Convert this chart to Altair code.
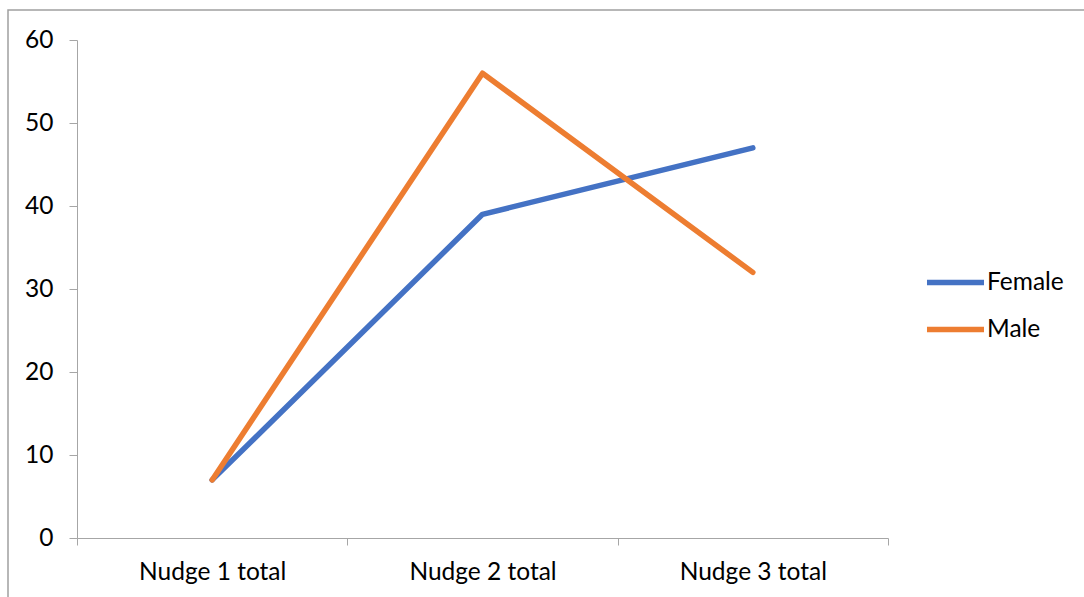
import altair as alt
import pandas as pd

# Totals per nudge, split by gender
categories = ["Nudge 1 total", "Nudge 2 total", "Nudge 3 total"]
female = [7, 39, 47]
male = [7, 56, 32]
series = ["Female", "Male"]
colors = ["#4472C4", "#ED7D31"]
y_ticks = [0, 10, 20, 30, 40, 50, 60]

rows = []
for name, vals in zip(series, [female, male]):
    for order, (cat, v) in enumerate(zip(categories, vals)):
        rows.append({"nudge": cat, "value": v, "gender": name, "order": order})
df = pd.DataFrame(rows)

FONT = "Lato"
FONT_SIZE = 24.5
AXIS_GREY = "#a6a6a6"

lines = alt.Chart(df).mark_line(
    strokeWidth=5.5, strokeCap="round", strokeJoin="round"
).encode(
    x=alt.X(
        "nudge:N",
        sort=categories,
        scale=alt.Scale(type="band", paddingInner=0, paddingOuter=0),
        bandPosition=0.5,
        axis=alt.Axis(
            title=None, labelAngle=0, tickBand="extent", domainColor=AXIS_GREY,
            tickColor=AXIS_GREY, tickSize=7, labelPadding=15, labelFont=FONT,
            labelFontSize=FONT_SIZE, labelColor="#000000", grid=False,
        ),
    ),
    y=alt.Y(
        "value:Q",
        scale=alt.Scale(domain=[0, 60], nice=False, zero=True),
        axis=alt.Axis(
            title=None, values=y_ticks, domainColor=AXIS_GREY, tickColor=AXIS_GREY,
            tickSize=8, labelPadding=16, labelFont=FONT, labelFontSize=FONT_SIZE,
            labelColor="#000000", grid=False,
        ),
    ),
    color=alt.Color(
        "gender:N",
        scale=alt.Scale(domain=series, range=colors),
        legend=alt.Legend(
            title=None, orient="none", legendX=847, legendY=211,
            symbolType="stroke", symbolSize=3250, symbolStrokeWidth=5.5,
            labelFont=FONT, labelFontSize=FONT_SIZE, labelColor="#000000",
            labelOffset=0, rowPadding=4,
        ),
    ),
    order="order:Q",
    detail="gender:N",
)

# Outer frame around the whole figure
frame = alt.Chart(pd.DataFrame({"f": [0]})).mark_rect(
    fill=None, stroke="#a0a0a0", strokeWidth=1.5, clip=False
).encode(
    x=alt.value(-69), x2=alt.value(1100), y=alt.value(-30), y2=alt.value(600)
)

chart = alt.layer(frame, lines).properties(
    width=811,
    height=498,
    background="white",
    autosize=alt.AutoSizeParams(type="none"),
    padding={"left": 77, "top": 40, "right": 196, "bottom": 59},
).configure_view(stroke="transparent", strokeWidth=0)

chart.save("out.html", embed_options={"renderer": "svg", "actions": False})
